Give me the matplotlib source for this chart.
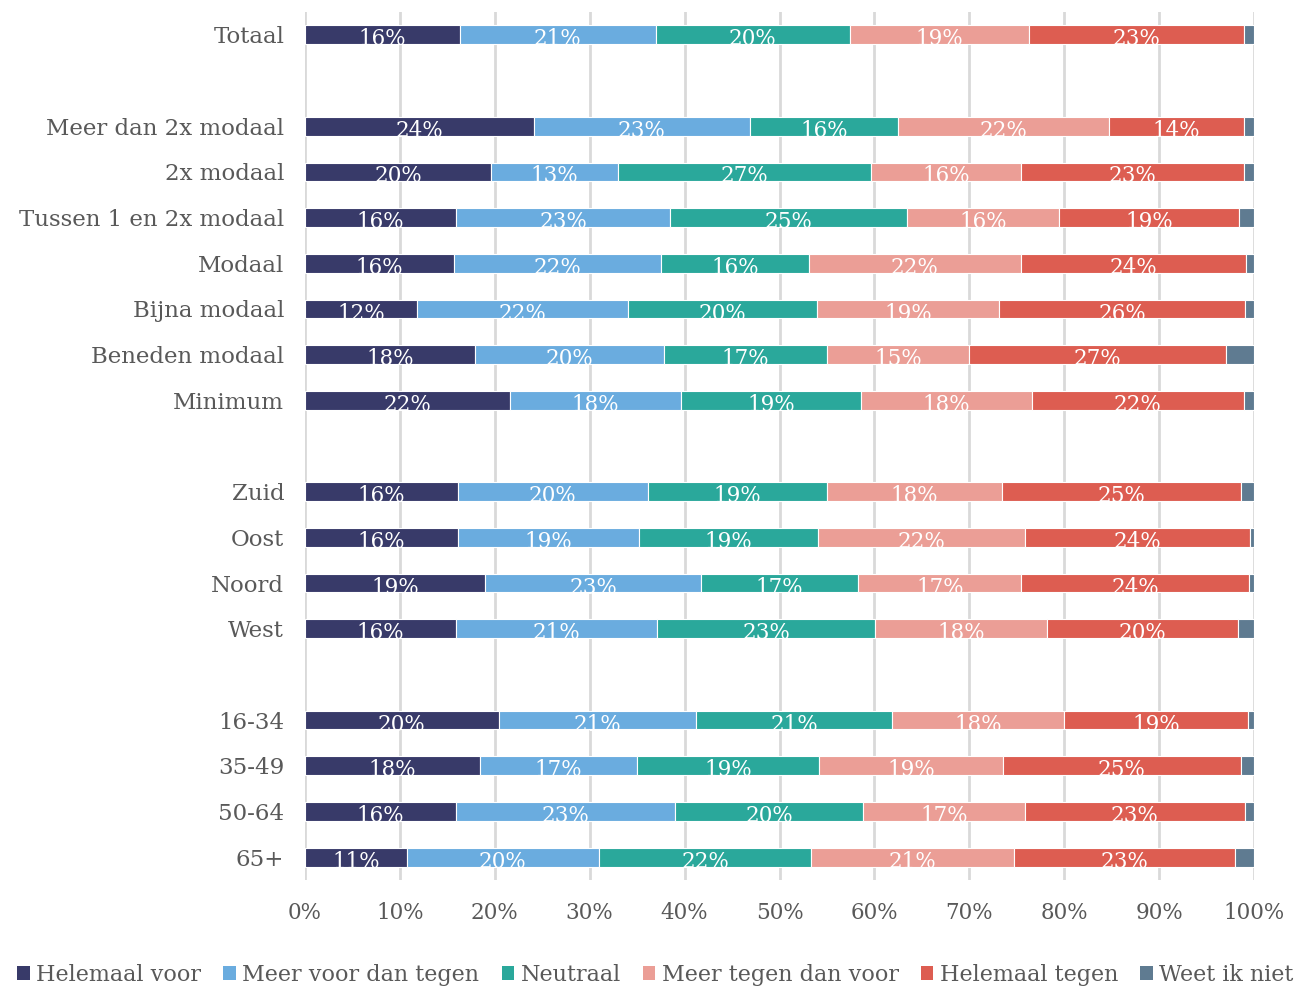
import matplotlib
matplotlib.use("Agg")
import matplotlib.pyplot as plt
from matplotlib.patches import Patch
import numpy as np

plt.rcParams['font.family'] = ['DejaVu Serif']

# categories top to bottom, None = empty slot between groups
categories = ["Totaal", None,
              "Meer dan 2x modaal", "2x modaal", "Tussen 1 en 2x modaal", "Modaal",
              "Bijna modaal", "Beneden modaal", "Minimum", None,
              "Zuid", "Oost", "Noord", "West", None,
              "16-34", "35-49", "50-64", "65+"]

series = ["Helemaal voor", "Meer voor dan tegen", "Neutraal",
          "Meer tegen dan voor", "Helemaal tegen", "Weet ik niet"]

helemaal_voor = [16.3, 24.1, 19.6, 15.9, 15.7, 11.8, 17.9, 21.6, 16.1, 16.1, 19.0, 15.9, 20.4, 18.4, 15.9, 10.7]
meer_voor = [20.7, 22.8, 13.4, 22.6, 21.8, 22.2, 19.9, 18.0, 20.0, 19.1, 22.7, 21.2, 20.8, 16.6, 23.1, 20.3]
neutraal = [20.4, 15.6, 26.6, 24.9, 15.6, 20.0, 17.2, 19.0, 18.9, 18.9, 16.6, 23.0, 20.7, 19.2, 19.8, 22.3]
meer_tegen = [18.9, 22.2, 15.9, 16.1, 22.3, 19.1, 15.0, 18.0, 18.4, 21.8, 17.2, 18.1, 18.1, 19.3, 17.1, 21.4]
helemaal_tegen = [22.6, 14.2, 23.4, 18.9, 23.8, 26.0, 27.0, 22.3, 25.2, 23.7, 24.0, 20.1, 19.4, 25.1, 23.1, 23.3]
weet_niet = [1.1, 1.1, 1.1, 1.6, 0.8, 0.9, 3.0, 1.1, 1.4, 0.4, 0.5, 1.7, 0.6, 1.4, 1.0, 2.0]

colors = ["#383a69", "#6aacdf", "#2aa89b", "#eb9e96", "#dd5d51", "#5f7b91"]
text_grey = "#595959"

data = [helemaal_voor, meer_voor, neutraal, meer_tegen, helemaal_tegen, weet_niet]

ypos = [i for i, c in enumerate(categories) if c is not None]
labels = [c for c in categories if c is not None]

fig = plt.figure(figsize=(13.11, 9.89), dpi=100)
ax = fig.add_axes([305 / 1311, 1 - 880 / 989, 949 / 1311, 868 / 989])

left = np.zeros(len(ypos))
for vals, col, name in zip(data, colors, series):
    vals = np.array(vals)
    ax.barh(ypos, vals, left=left, height=0.41, color=col, edgecolor="white",
            linewidth=0.8, label=name, zorder=3)
    if name != "Weet ik niet":
        for y, l, v in zip(ypos, left, vals):
            ax.text(l + v / 2, y + 0.1, f"{round(v)}%", ha="center", va="center",
                    color="white", fontsize=15.5, zorder=4)
    left += vals

ax.set_xlim(0, 100)
ax.set_ylim(len(categories) - 0.5, -0.5)
ax.set_yticks(ypos)
ax.set_yticklabels(labels, fontsize=16.5, color=text_grey)
ax.set_xticks(np.arange(0, 101, 10))
ax.set_xticklabels([f"{t}%" for t in range(0, 101, 10)], fontsize=15.5, color=text_grey)
ax.tick_params(length=0, axis="y", pad=15)
ax.tick_params(length=0, axis="x", pad=16)
ax.grid(axis="x", color="#d9d9d9", linewidth=2, zorder=0)
for s in ax.spines.values():
    s.set_visible(False)

handles = [Patch(facecolor=c, label=n) for c, n in zip(colors, series)]
fig.legend(handles=handles, loc="lower center", bbox_to_anchor=(0.5, -0.006), ncol=6,
           frameon=False, fontsize=16, labelcolor=text_grey, handlelength=0.55,
           handleheight=0.55, handletextpad=0.3, columnspacing=1.0, borderaxespad=0)

fig.savefig("out.png", dpi=100)
